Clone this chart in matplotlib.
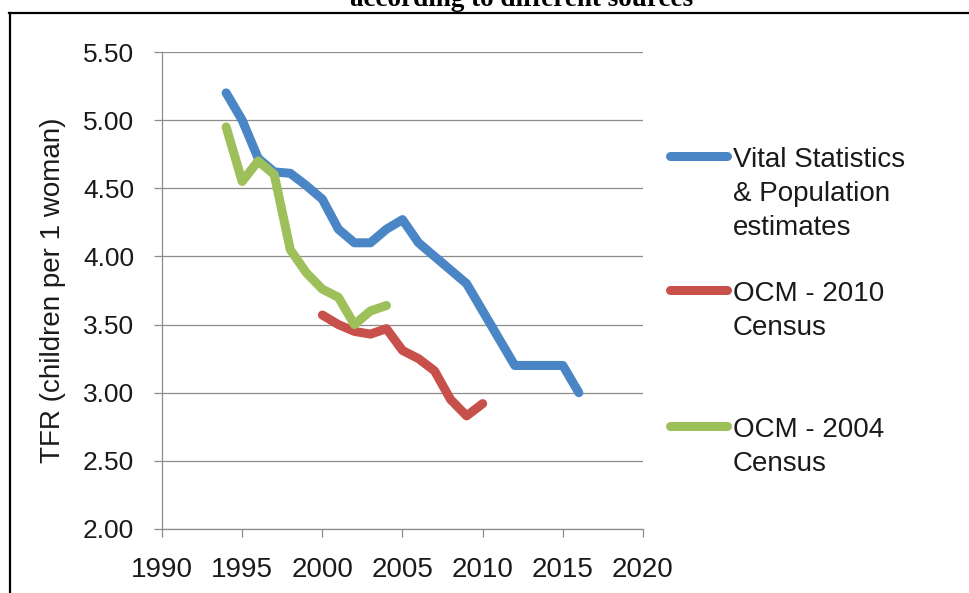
import matplotlib.pyplot as plt
from matplotlib.lines import Line2D

plt.rcParams['font.family'] = ['Liberation Sans', 'DejaVu Sans']

# total fertility rate by source
years_vital = [1994, 1995, 1996, 1997, 1998, 1999, 2000, 2001, 2002, 2003, 2004, 2005,
               2006, 2007, 2008, 2009, 2010, 2011, 2012, 2013, 2014, 2015, 2016]
tfr_vital = [5.20, 5.00, 4.72, 4.62, 4.61, 4.52, 4.42, 4.20, 4.10, 4.10, 4.20, 4.27,
             4.10, 4.00, 3.90, 3.80, 3.60, 3.40, 3.20, 3.20, 3.20, 3.20, 3.00]

years_2010 = [2000, 2001, 2002, 2003, 2004, 2005, 2006, 2007, 2008, 2009, 2010]
tfr_2010 = [3.57, 3.50, 3.45, 3.43, 3.47, 3.31, 3.25, 3.16, 2.95, 2.83, 2.92]

years_2004 = [1994, 1995, 1996, 1997, 1998, 1999, 2000, 2001, 2002, 2003, 2004]
tfr_2004 = [4.95, 4.55, 4.70, 4.60, 4.05, 3.88, 3.76, 3.70, 3.50, 3.60, 3.64]

labels = [['Vital Statistics', '& Population', 'estimates'],
          ['OCM - 2010', 'Census'],
          ['OCM - 2004', 'Census']]
colors = ['#4A85C5', '#C8504B', '#9DC05A']

W, H = 970, 593
fig = plt.figure(figsize=(W / 100, H / 100), dpi=100)
ax = fig.add_axes([162 / W, 1 - 529 / H, 481 / W, 477 / H])

series = [(years_vital, tfr_vital), (years_2010, tfr_2010), (years_2004, tfr_2004)]
for (x, y), c in zip(series, colors):
    ax.plot(x, y, color=c, lw=6.5, solid_capstyle='round', solid_joinstyle='round')

ax.set_xlim(1990, 2020)
ax.set_ylim(2.0, 5.5)
ax.set_xticks(range(1990, 2021, 5))
ax.set_yticks([2.0, 2.5, 3.0, 3.5, 4.0, 4.5, 5.0, 5.5])
ax.yaxis.set_major_formatter(lambda v, p: f'{v:.2f}')
ax.grid(axis='y', color='#8c8c8c', lw=0.9)
ax.set_axisbelow(True)
for s in ['top', 'right']:
    ax.spines[s].set_visible(False)
for s in ['left', 'bottom']:
    ax.spines[s].set_color('#8c8c8c')
    ax.spines[s].set_linewidth(0.9)
ax.tick_params(axis='both', colors='#8c8c8c', width=0.9, labelcolor='#1a1a1a')
ax.tick_params(axis='y', length=6, pad=14, labelsize=19)
ax.tick_params(axis='x', length=6, pad=14, labelsize=20)
ax.set_ylabel('TFR (children per 1 woman)', fontsize=20, color='#1a1a1a', labelpad=12)

# legend drawn beside the plot area
handle_y = [156, 290, 426]
for lines, c, hy in zip(labels, colors, handle_y):
    fig.add_artist(Line2D([670 / W, 727 / W], [1 - hy / H, 1 - hy / H], color=c,
                          lw=6.5, solid_capstyle='round'))
    for i, t in enumerate(lines):
        fig.text(733 / W, 1 - (hy + 4 + 34 * i) / H, t, fontsize=20,
                 color='#1a1a1a', va='center', ha='left')

# page frame and cut-off caption above it
fig.add_artist(Line2D([9 / W, 1], [1 - 13 / H, 1 - 13 / H], color='black', lw=1.6))
fig.add_artist(Line2D([10 / W, 10 / W], [0, 1 - 13 / H], color='black', lw=1.6))
fig.text(522 / W, 1 - 6 / H, 'according to different sources', fontsize=19.5,
         family='Liberation Serif', weight='bold', ha='center', va='baseline')

fig.savefig('out.png', dpi=100)
